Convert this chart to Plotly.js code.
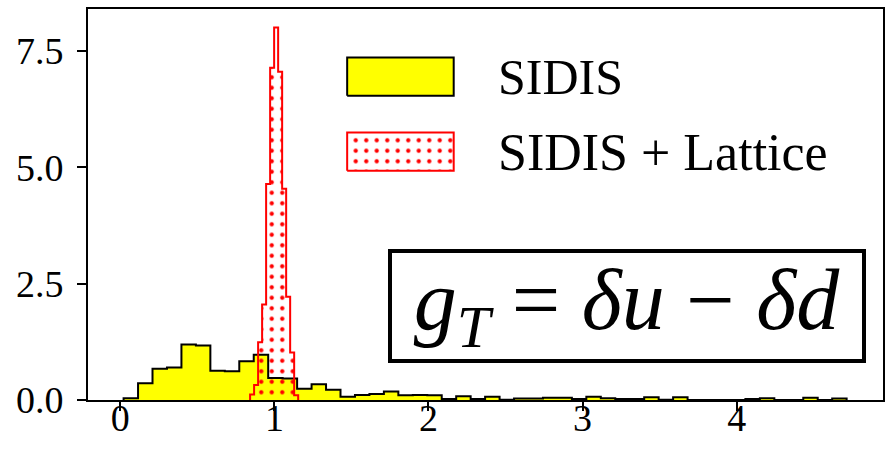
<!DOCTYPE html>
<html><head><meta charset="utf-8">
<script src="https://cdn.plot.ly/plotly-3.0.1.min.js"></script>
<style>html,body{margin:0;padding:0;background:#fff}#chart{width:887px;height:451px}</style>
</head><body><div id="chart"></div>
<script>
// SIDIS histogram: 50 equal bins between first and last edge (density)
const sidisFirstEdge = 0.021;
const sidisLastEdge = 4.714;
const sidisDensity = [
  0.04, 0.36, 0.67, 0.70, 1.19, 1.17, 0.63, 0.62, 0.83, 0.97,
  0.47, 0.46, 0.24, 0.34, 0.22, 0.07, 0.11, 0.13, 0.18, 0.10,
  0.11, 0.10, 0.02, 0.08, 0.02, 0.07, 0.005, 0.03, 0.03, 0.05,
  0.05, 0.02, 0.07, 0.04, 0.02, 0.02, 0.06, 0.005, 0.06, 0.0,
  0.0, 0.0, 0.0, 0.02, 0.04, 0.0, 0.0, 0.05, 0.0, 0.03
];
// SIDIS + Lattice histogram (density)
const latticeFirstEdge = 0.8421;
const latticeBinWidth = 0.026;
const latticeDensity = [0.12, 0.32, 1.24, 2.05, 4.64, 7.14, 8.0, 7.05, 4.54, 2.22, 1.02, 0.10];

const seriesNames = ['SIDIS', 'SIDIS + Lattice'];
const xTickValues = [0, 1, 2, 3, 4];
const yTickValues = [0, 2.5, 5.0, 7.5];
const annotationText = '<i>g</i><sub><i>T</i></sub> = <i>δu</i> − <i>δd</i>';

function stepOutline(start, width, heights) {
  const xs = [start], ys = [0];
  heights.forEach((h, i) => { xs.push(start + i * width); ys.push(h); });
  xs.push(start + heights.length * width); ys.push(0);
  return {x: xs, y: ys};
}
const sidisWidth = (sidisLastEdge - sidisFirstEdge) / sidisDensity.length;
const sidisStep = stepOutline(sidisFirstEdge, sidisWidth, sidisDensity);
const latticeStep = stepOutline(latticeFirstEdge, latticeBinWidth, latticeDensity);

const FONT = 'Liberation Serif, Times New Roman, serif';
const dotPattern = {shape: '.', fgcolor: '#ff0000', fgopacity: 1, bgcolor: 'rgba(0,0,0,0)', size: 10.5, solidity: 0.13, fillmode: 'overlay'};

// legend key boxes (paper fractions, drawn on an overlay axis spanning the plot)
const keyX = [0.326, 0.460];
const keyY1 = [0.778, 0.876];
const keyY2 = [0.586, 0.684];
function box(xr, yr) { return {x: [xr[0], xr[1], xr[1], xr[0], xr[0]], y: [yr[0], yr[0], yr[1], yr[1], yr[0]]}; }

const traces = [
  {type: 'scatter', mode: 'lines', x: sidisStep.x, y: sidisStep.y, line: {shape: 'hv', color: '#000', width: 2},
   fill: 'tozeroy', fillcolor: '#ffff00', name: seriesNames[0], showlegend: false, hoverinfo: 'skip'},
  {type: 'scatter', mode: 'lines', x: latticeStep.x, y: latticeStep.y, line: {shape: 'hv', color: '#ff0000', width: 2},
   fill: 'tozeroy', fillcolor: 'rgba(0,0,0,0)', fillpattern: dotPattern, name: seriesNames[1], showlegend: false, hoverinfo: 'skip'},
  Object.assign({type: 'scatter', mode: 'lines', xaxis: 'x2', yaxis: 'y2', fill: 'toself', fillcolor: '#ffff00',
   line: {color: '#000', width: 2}, showlegend: false, hoverinfo: 'skip'}, box(keyX, keyY1)),
  Object.assign({type: 'scatter', mode: 'lines', xaxis: 'x2', yaxis: 'y2', fill: 'toself', fillcolor: 'rgba(0,0,0,0)',
   fillpattern: dotPattern, line: {color: '#ff0000', width: 2}, showlegend: false, hoverinfo: 'skip'}, box(keyX, keyY2))
];

const axisCommon = {
  showline: true, linewidth: 2, linecolor: '#000', mirror: true, showgrid: false, zeroline: false,
  ticks: 'outside', ticklen: 9, tickwidth: 2, tickcolor: '#000',
  tickfont: {family: FONT, size: 38, color: '#000'}
};

const layout = {
  width: 887, height: 451,
  margin: {l: 88, r: 4, t: 9, b: 51},
  paper_bgcolor: '#fff', plot_bgcolor: '#fff',
  showlegend: false,
  xaxis: Object.assign({}, axisCommon, {range: [-0.21, 4.95], tickvals: xTickValues, ticktext: xTickValues.map(String), ticklabelstandoff: -26}),
  yaxis: Object.assign({}, axisCommon, {range: [0, 8.4], tickvals: yTickValues, tickformat: '.1f', ticklabelstandoff: 6}),
  xaxis2: {overlaying: 'x', range: [0, 1], visible: false, fixedrange: true},
  yaxis2: {overlaying: 'y', anchor: 'x2', range: [0, 1], visible: false, fixedrange: true},
  annotations: [
    {xref: 'paper', yref: 'paper', x: 0.513, y: 0.826, xanchor: 'left', yanchor: 'middle', showarrow: false,
     text: seriesNames[0], font: {family: FONT, size: 50, color: '#000'}},
    {xref: 'paper', yref: 'paper', x: 0.513, y: 0.632, xanchor: 'left', yanchor: 'middle', showarrow: false,
     text: seriesNames[1], font: {family: FONT, size: 52, color: '#000'}},
    {xref: 'paper', yref: 'paper', x: 0.6786, y: 0.2404, xanchor: 'center', yanchor: 'middle', showarrow: false,
     text: annotationText, font: {family: FONT, size: 86, color: '#000'},
     width: 470, height: 106, bordercolor: '#000', borderwidth: 4, borderpad: 0, bgcolor: '#fff'}
  ]
};

Plotly.newPlot('chart', traces, layout, {staticPlot: true, displayModeBar: false});
</script>
</body></html>
